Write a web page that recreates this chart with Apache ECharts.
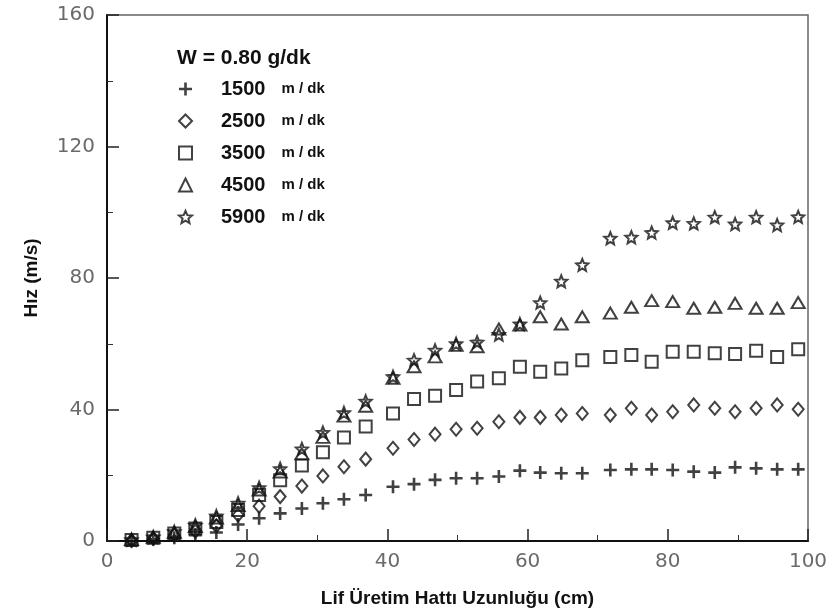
<!DOCTYPE html>
<html>
<head>
<meta charset="utf-8">
<script src="https://cdn.jsdelivr.net/npm/echarts@6/dist/echarts.min.js"></script>
<style>
    html, body { margin: 0; padding: 0; background: #fff; }
    #chart { width: 835px; height: 616px; }
</style>
</head>
<body>
<div id="chart"></div>
<script>
// olcum noktalari (cm)
const xPos = [3.5, 6.6, 9.6, 12.6, 15.6, 18.7, 21.7, 24.7, 27.8, 30.8, 33.8, 36.9,
    40.8, 43.8, 46.8, 49.8, 52.8, 55.9, 58.9, 61.8, 64.8, 67.8,
    71.8, 74.8, 77.7, 80.7, 83.7, 86.7, 89.6, 92.6, 95.6, 98.6]

// hiz degerleri (m/s)
const v1500 = [0, 0.5, 1.0, 1.8, 2.6, 5.0, 6.9, 8.4, 9.9, 11.5, 12.7, 14,
    16.5, 17.3, 18.6, 19.1, 19.1, 19.6, 21.4, 20.8, 20.6, 20.6,
    21.6, 21.8, 21.8, 21.6, 21.1, 20.8, 22.4, 22.1, 21.8, 21.8]
const v2500 = [0.2, 0.8, 1.8, 3.0, 4.6, 7.9, 10.6, 13.5, 16.7, 19.8, 22.6, 24.9,
    28.2, 30.9, 32.5, 34, 34.3, 36.3, 37.6, 37.6, 38.3, 38.8,
    38.3, 40.4, 38.3, 39.3, 41.4, 40.4, 39.3, 40.4, 41.4, 40.1]
const v3500 = [0.3, 1.0, 2.3, 3.8, 5.8, 9.4, 14, 18.5, 23, 27, 31.5, 34.8,
    38.8, 43.2, 44.2, 45.9, 48.5, 49.5, 53, 51.5, 52.5, 55,
    56, 56.6, 54.5, 57.6, 57.6, 57.1, 56.9, 57.9, 56, 58.3]
const v4500 = [0.4, 1.1, 2.6, 4.4, 7.0, 10.8, 15.5, 21, 26.5, 31.5, 38, 41,
    49.5, 53, 56, 59.5, 59.1, 64.5, 65.7, 68.2, 66, 68.2,
    69.3, 71.1, 73.1, 72.8, 70.8, 71.1, 72.3, 70.8, 70.8, 72.5]
const v5900 = [0.4, 1.2, 2.8, 4.8, 7.6, 11.5, 16.2, 22, 28, 33, 39, 42.5,
    50, 55, 58, 60, 60.5, 62.8, 66, 72.5, 79, 84,
    92.1, 92.4, 93.8, 96.8, 96.6, 98.5, 96.4, 98.5, 96.1, 98.6]

const speedNames = ['1500', '2500', '3500', '4500', '5900']
const yTicks = [0, 40, 80, 120, 160]
const xTicks = [0, 20, 40, 60, 80, 100]

// semboller
const plusPath = 'path://M4,0h2v10h-2z M0,4h10v2h-10z'
const starPath = 'path://M10,0L12.65,6.36L19.51,6.91L14.28,11.39L15.88,18.09L10,14.5L4.12,18.09L5.72,11.39L0.49,6.91L7.35,6.36Z'

const ink = '#111'
const hollow = { color: 'rgba(255,255,255,0)', borderColor: ink, borderWidth: 2 }

function pairs (ys) {
    return xPos.map((x, i) => [x, ys[i]])
}

let myChart = echarts.init(document.getElementById('chart'), null, { renderer: 'canvas' })

myChart.setOption({
    animation: false,
    backgroundColor: '#fff',
    title: {
        text: 'W = 0.80 g/dk',
        left: 172,
        top: 43,
        textStyle: { fontFamily: 'Liberation Sans', fontWeight: 'bold', fontSize: 21, color: '#111' }
    },
    legend: {
        orient: 'vertical',
        left: 173,
        top: 74,
        itemWidth: 13,
        itemHeight: 13,
        itemGap: 12,
        data: speedNames,
        formatter: name => '{n|' + name + '}{u|m / dk}',
        textStyle: {
            rich: {
                n: { fontFamily: 'Liberation Sans', fontWeight: 'bold', fontSize: 20, color: '#111', padding: [0, 0, 0, 24], lineHeight: 20 },
                u: { fontFamily: 'Liberation Sans', fontWeight: 'bold', fontSize: 15, color: '#111', padding: [0, 0, 0, 16], lineHeight: 20 }
            }
        }
    },
    grid: {
        left: 107,
        right: 27,
        top: 15,
        bottom: 75,
        show: true,
        borderColor: '#666',
        borderWidth: 1.5
    },
    xAxis: {
        type: 'value',
        min: xTicks[0],
        max: xTicks[xTicks.length - 1],
        interval: 20,
        name: 'Lif Üretim Hattı Uzunluğu (cm)',
        nameLocation: 'middle',
        nameGap: 48,
        nameTextStyle: { fontFamily: 'Liberation Sans', fontWeight: 'bold', fontSize: 19, color: '#111' },
        axisLine: { lineStyle: { color: '#111', width: 2 } },
        axisTick: { inside: true, length: 12, lineStyle: { color: '#222', width: 1.5 } },
        minorTick: { show: true, splitNumber: 2, length: 6, lineStyle: { color: '#333' } },
        axisLabel: { margin: 11, fontFamily: 'DejaVu Sans', fontSize: 20, color: '#6a6a6a' },
        splitLine: { show: false }
    },
    yAxis: {
        type: 'value',
        min: yTicks[0],
        max: yTicks[yTicks.length - 1],
        interval: 40,
        name: 'Hız (m/s)',
        nameLocation: 'middle',
        nameRotate: 90,
        nameGap: 66,
        nameTextStyle: { fontFamily: 'Liberation Sans', fontWeight: 'bold', fontSize: 19, color: '#111' },
        axisLine: { lineStyle: { color: '#111', width: 2 } },
        axisTick: { inside: true, length: 12, lineStyle: { color: '#222', width: 1.5 } },
        minorTick: { show: true, splitNumber: 2, length: 6, lineStyle: { color: '#333' } },
        axisLabel: { margin: 12, fontFamily: 'DejaVu Sans', fontSize: 20, color: '#6a6a6a' },
        splitLine: { show: false }
    },
    series: [
        {
            name: '1500', type: 'scatter', symbol: plusPath, symbolSize: 13,
            itemStyle: { color: ink }, data: pairs(v1500)
        },
        {
            name: '2500', type: 'scatter', symbol: 'diamond', symbolSize: [11, 13],
            itemStyle: hollow, data: pairs(v2500)
        },
        {
            name: '3500', type: 'scatter', symbol: 'rect', symbolSize: 12,
            itemStyle: hollow, data: pairs(v3500)
        },
        {
            name: '4500', type: 'scatter', symbol: 'triangle', symbolSize: [13, 11],
            itemStyle: hollow, data: pairs(v4500)
        },
        {
            name: '5900', type: 'scatter', symbol: starPath, symbolSize: 12,
            itemStyle: hollow, data: pairs(v5900)
        }
    ]
})

window.addEventListener('resize', function () {
    myChart.resize()
})
</script>
</body>
</html>
